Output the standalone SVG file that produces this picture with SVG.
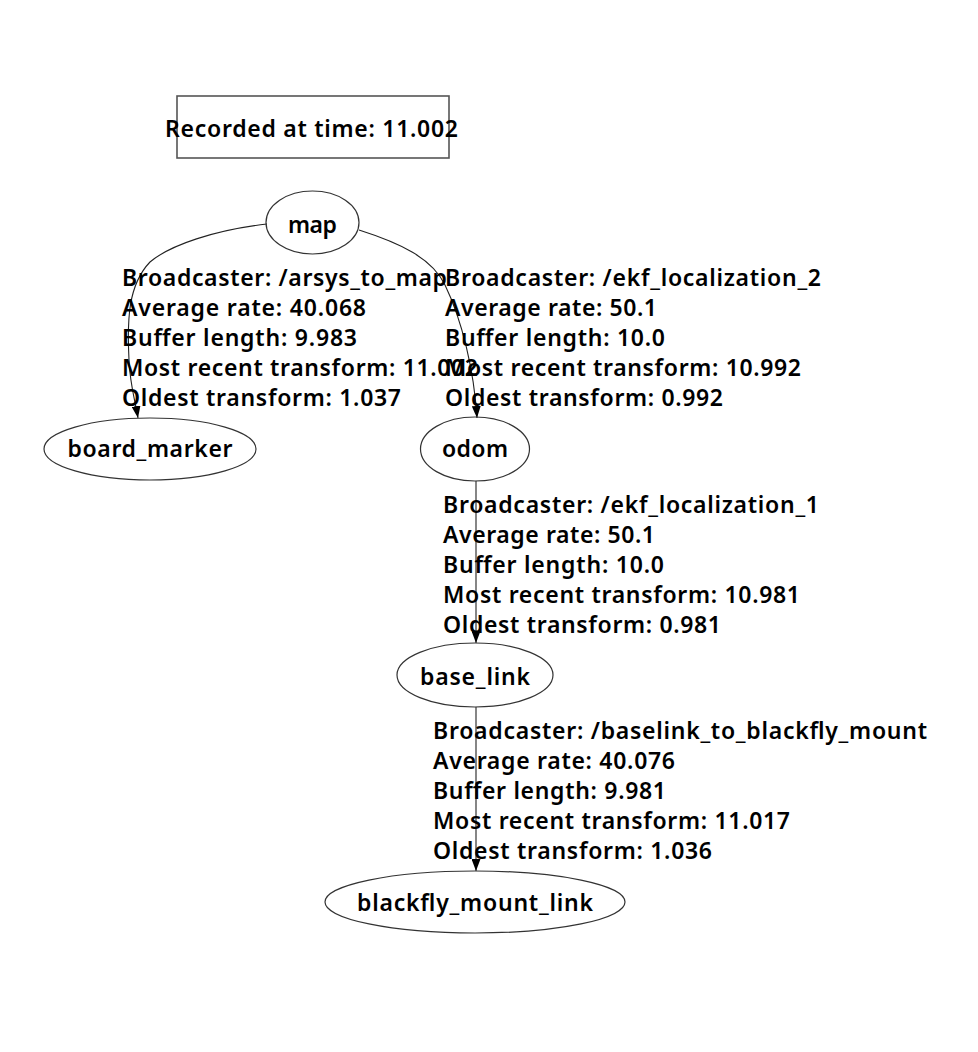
<svg xmlns="http://www.w3.org/2000/svg" width="978" height="1052" viewBox="0 0 978 1052">
<defs>
<style>
text{font-family:"Noto Sans","DejaVu Sans",sans-serif;font-weight:600;font-size:23px;fill:#000}
.node{fill:none;stroke:#333;stroke-width:1.2}
.box{fill:none;stroke:#555;stroke-width:1.6}
.edge{fill:none;stroke:#222;stroke-width:1.1;marker-end:url(#arr)}
.c{text-anchor:middle}
</style>
<marker id="arr" markerUnits="userSpaceOnUse" markerWidth="12" markerHeight="9" refX="12" refY="4.5" orient="auto" viewBox="0 0 12 9">
<path d="M0,0 L12,4.5 L0,9 z" fill="#000"/>
</marker>
</defs>
<rect width="978" height="1052" fill="#fff"/>
<g id="connectors">
<path class="edge" d="M 267 224 C 215 230, 170 245, 150 262 C 128 285, 127 320, 129 360 C 130 385, 135 400, 138 418"/>
<path class="edge" d="M 359 230 C 400 243, 432 258, 445 285 C 462 320, 474 370, 477 418"/>
<path class="edge" d="M 476 481 L 476 643"/>
<path class="edge" d="M 476 707 L 476 871"/>
</g>
<g id="labels">
<g id="label-arsys">
<text x="122" y="286" textLength="325">Broadcaster: /arsys_to_map</text>
<text x="122" y="316" textLength="244">Average rate: 40.068</text>
<text x="122" y="346" textLength="235">Buffer length: 9.983</text>
<text x="122" y="376" textLength="356">Most recent transform: 11.002</text>
<text x="122" y="406" textLength="279">Oldest transform: 1.037</text>
</g>
<g id="label-ekf2">
<text x="445" y="286" textLength="376">Broadcaster: /ekf_localization_2</text>
<text x="445" y="316" textLength="212">Average rate: 50.1</text>
<text x="445" y="346" textLength="220">Buffer length: 10.0</text>
<text x="445" y="376" textLength="356">Most recent transform: 10.992</text>
<text x="445" y="406" textLength="278">Oldest transform: 0.992</text>
</g>
<g id="label-ekf1">
<text x="443" y="513" textLength="376">Broadcaster: /ekf_localization_1</text>
<text x="443" y="543" textLength="212">Average rate: 50.1</text>
<text x="443" y="573" textLength="221">Buffer length: 10.0</text>
<text x="443" y="603" textLength="357">Most recent transform: 10.981</text>
<text x="443" y="633" textLength="278">Oldest transform: 0.981</text>
</g>
<g id="label-baselink">
<text x="433" y="739" textLength="494">Broadcaster: /baselink_to_blackfly_mount</text>
<text x="433" y="769" textLength="242">Average rate: 40.076</text>
<text x="433" y="799" textLength="233">Buffer length: 9.981</text>
<text x="433" y="829" textLength="357">Most recent transform: 11.017</text>
<text x="433" y="859" textLength="279">Oldest transform: 1.036</text>
</g>
</g>
<g id="recorded">
<rect class="box" x="177" y="96" width="272" height="62"/>
<text class="c" x="311.5" y="137" textLength="293">Recorded at time: 11.002</text>
</g>
<g id="map">
<ellipse class="node" cx="312.5" cy="222.5" rx="46.5" ry="31.5"/>
<text class="c" x="312.5" y="233" textLength="49">map</text>
</g>
<g id="board_marker">
<ellipse class="node" cx="150" cy="449" rx="106" ry="31"/>
<text class="c" x="150" y="457" textLength="165">board_marker</text>
</g>
<g id="odom">
<ellipse class="node" cx="475" cy="449" rx="54.5" ry="32"/>
<text class="c" x="475" y="457" textLength="66">odom</text>
</g>
<g id="base_link">
<ellipse class="node" cx="475" cy="675" rx="78" ry="32"/>
<text class="c" x="475" y="685" textLength="110">base_link</text>
</g>
<g id="blackfly_mount_link">
<ellipse class="node" cx="475" cy="902" rx="150" ry="31"/>
<text class="c" x="475" y="911" textLength="236">blackfly_mount_link</text>
</g>
</svg>
